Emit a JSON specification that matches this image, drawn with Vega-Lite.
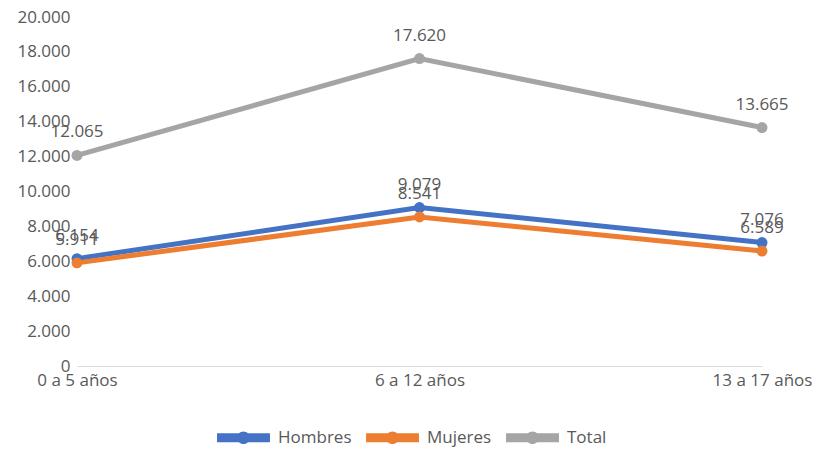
{
  "$schema": "https://vega.github.io/schema/vega-lite/v6.json",
  "width": 685,
  "height": 349,
  "autosize": {"type": "none"},
  "padding": {"left": 77, "top": 17, "right": 58, "bottom": 84},
  "background": "white",
  "config": {
    "locale": {"number": {"decimal": ",", "thousands": ".", "grouping": [3], "currency": ["$", ""]}},
    "view": {"stroke": null},
    "font": "Open Sans"
  },
  "data": {
    "values": [
      {"grupo": "0 a 5 años", "serie": "Hombres", "valor": 6154},
      {"grupo": "6 a 12 años", "serie": "Hombres", "valor": 9079},
      {"grupo": "13 a 17 años", "serie": "Hombres", "valor": 7076},
      {"grupo": "0 a 5 años", "serie": "Mujeres", "valor": 5911},
      {"grupo": "6 a 12 años", "serie": "Mujeres", "valor": 8541},
      {"grupo": "13 a 17 años", "serie": "Mujeres", "valor": 6589},
      {"grupo": "0 a 5 años", "serie": "Total", "valor": 12065},
      {"grupo": "6 a 12 años", "serie": "Total", "valor": 17620},
      {"grupo": "13 a 17 años", "serie": "Total", "valor": 13665}
    ]
  },
  "encoding": {
    "x": {
      "field": "grupo",
      "type": "ordinal",
      "sort": ["0 a 5 años", "6 a 12 años", "13 a 17 años"],
      "scale": {"type": "point", "padding": 0},
      "axis": {
        "title": null,
        "labelAngle": 0,
        "labelFont": "Open Sans",
        "labelFontSize": 17,
        "labelColor": "#595959",
        "labelPadding": 6,
        "ticks": false,
        "domainColor": "#D9D9D9",
        "domainWidth": 1,
        "grid": false
      }
    },
    "y": {
      "field": "valor",
      "type": "quantitative",
      "scale": {"domain": [0, 20000]},
      "axis": {
        "title": null,
        "values": [0, 2000, 4000, 6000, 8000, 10000, 12000, 14000, 16000, 18000, 20000],
        "format": ",.0f",
        "labelFont": "Open Sans",
        "labelFontSize": 17,
        "labelColor": "#595959",
        "labelPadding": 7,
        "ticks": false,
        "domain": false,
        "grid": false
      }
    }
  },
  "layer": [
    {
      "mark": {"type": "line", "strokeWidth": 5, "point": {"filled": true, "size": 120}},
      "encoding": {
        "color": {
          "field": "serie",
          "type": "nominal",
          "scale": {"domain": ["Hombres", "Mujeres", "Total"], "range": ["#4472C4", "#ED7D31", "#A5A5A5"]},
          "legend": {
            "title": null,
            "orient": "none",
            "direction": "horizontal",
            "legendX": 140,
            "legendY": 394,
            "symbolType": "M-1,-0.17H1V0.17H-1Z M0.24,0A0.24,0.24 0 1,1 -0.24,0A0.24,0.24 0 1,1 0.24,0Z",
            "symbolSize": 2800,
            "symbolStrokeWidth": 0,
            "labelFont": "Open Sans",
            "labelFontSize": 17,
            "labelColor": "#595959",
            "labelOffset": 8,
            "columnPadding": 14
          }
        }
      }
    },
    {
      "mark": {"type": "text", "font": "Open Sans", "fontSize": 17, "color": "#595959", "baseline": "alphabetic", "dy": -18},
      "encoding": {
        "text": {"field": "valor", "type": "quantitative", "format": ",.0f"}
      }
    }
  ]
}
